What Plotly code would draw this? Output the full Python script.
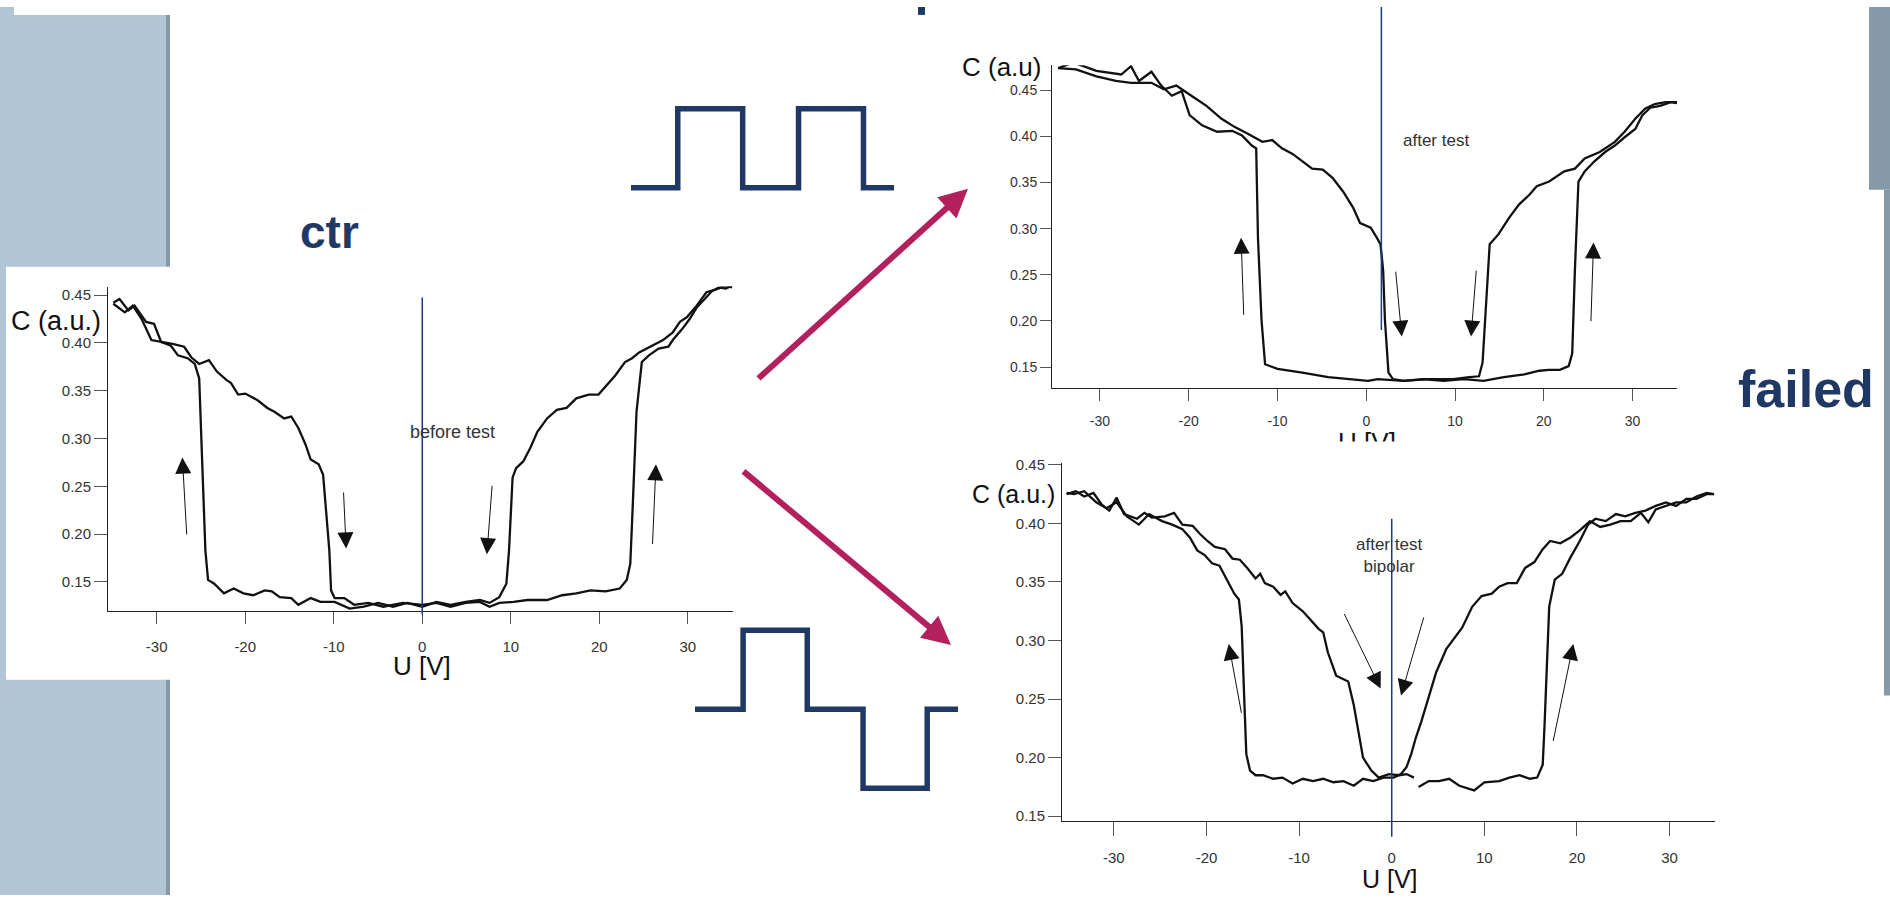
import plotly.graph_objects as go

W, H = 1890, 899

# ---------------- data ----------------
ticks_x = [-30, -20, -10, 0, 10, 20, 30]
ticks_x_text = ["-30", "-20", "-10", "0", "10", "20", "30"]
ticks_y = [0.15, 0.20, 0.25, 0.30, 0.35, 0.40, 0.45]

# before test (ctr): forward sweep (-35 -> +35) and reverse sweep
before_fwd = [(-34.9,0.442),(-34.2,0.446),(-33.2,0.434),(-32.5,0.439),(-31.2,0.422),(-30.3,0.420),
              (-29.5,0.401),(-28.2,0.399),(-26.9,0.396),(-26.1,0.385),(-25.2,0.378),(-24.1,0.382),
              (-23.2,0.370),(-22.1,0.361),(-21.6,0.358),(-20.8,0.346),(-20.0,0.347),(-18.6,0.340),
              (-17.5,0.332),(-16.7,0.328),(-15.6,0.321),(-14.8,0.323),(-14.0,0.311),(-13.2,0.294),
              (-12.6,0.278),(-11.7,0.273),(-11.2,0.262),(-10.9,0.231),(-10.5,0.183),(-10.3,0.141),
              (-9.9,0.133),(-8.8,0.133),(-7.7,0.126),(-6.1,0.128),(-4.4,0.124),(-2.2,0.128),
              (0.0,0.126),(1.6,0.128),(3.2,0.124),(4.9,0.128),(6.5,0.129),(7.6,0.124),(8.7,0.128),
              (10.3,0.129),(11.9,0.131),(14.1,0.131),(15.8,0.136),(17.4,0.138),(19.0,0.141),
              (20.7,0.140),(22.3,0.143),(23.1,0.152),(23.5,0.169),(23.8,0.235),(24.2,0.328),
              (24.8,0.380),(25.6,0.387),(26.7,0.394),(27.8,0.396),(28.3,0.403),(29.4,0.415),
              (30.2,0.425),(31.0,0.437),(31.9,0.446),(32.7,0.454),(33.5,0.458),(34.3,0.457),(35.0,0.460)]
before_rev = [(-34.9,0.441),(-33.6,0.432),(-32.7,0.439),(-31.7,0.425),(-30.6,0.403),(-29.5,0.401),
              (-28.4,0.397),(-27.6,0.387),(-26.5,0.384),(-25.7,0.378),(-25.2,0.363),(-24.9,0.287),
              (-24.5,0.183),(-24.2,0.152),(-23.5,0.148),(-22.4,0.138),(-21.3,0.143),(-20.2,0.138),
              (-19.1,0.136),(-17.8,0.141),(-17.0,0.140),(-16.1,0.134),(-14.8,0.133),(-14.0,0.126),
              (-12.6,0.133),(-11.5,0.129),(-9.9,0.129),(-8.2,0.122),(-6.6,0.124),(-5.0,0.128),
              (-3.3,0.124),(-1.7,0.128),(0.0,0.124),(1.6,0.129),(3.2,0.126),(4.9,0.129),(6.5,0.131),
              (7.6,0.128),(8.7,0.134),(9.5,0.148),(9.8,0.183),(10.2,0.259),(10.6,0.269),(11.4,0.276),
              (12.2,0.290),(13.0,0.307),(14.1,0.321),(15.2,0.330),(16.3,0.332),(17.4,0.342),
              (18.8,0.346),(19.9,0.346),(20.7,0.354),(21.8,0.366),(22.9,0.380),(23.7,0.384),
              (24.5,0.390),(25.9,0.397),(27.2,0.403),(28.3,0.411),(29.1,0.422),(29.9,0.427),
              (31.0,0.439),(32.1,0.453),(33.2,0.456),(34.3,0.460),(35.0,0.458)]

# after test (unipolar pulses)
after_fwd = [(-34.7,0.474),(-32.7,0.4725),(-30.4,0.465),(-28.2,0.460),(-26.5,0.458),(-24.2,0.458),
             (-22.8,0.451),(-21.4,0.455),(-19.7,0.444),(-18.0,0.433),(-16.3,0.419),(-14.8,0.410),
             (-13.4,0.403),(-11.7,0.394),(-10.6,0.396),(-9.5,0.387),(-8.3,0.381),(-7.2,0.373),
             (-6.1,0.365),(-4.9,0.364),(-3.8,0.355),(-2.6,0.340),(-1.5,0.323),(-0.7,0.306),
             (0.5,0.301),(1.2,0.290),(1.6,0.283),(1.9,0.255),(2.1,0.201),(2.5,0.144),(3.0,0.137),
             (4.2,0.135),(6.4,0.137),(8.7,0.135),(11.0,0.137),(13.2,0.135),(15.5,0.139),(17.8,0.142),
             (19.5,0.146),(20.6,0.147),(21.8,0.147),(22.8,0.151),(23.2,0.165),(23.5,0.255),
             (23.9,0.351),(24.6,0.362),(25.7,0.373),(26.9,0.383),(28.0,0.390),(29.1,0.399),
             (30.3,0.408),(31.1,0.423),(32.0,0.431),(33.1,0.433),(34.3,0.437),(35.0,0.436)]
after_rev = [(-34.7,0.474),(-33.0,0.480),(-30.4,0.471),(-27.6,0.467),(-26.5,0.476),(-25.6,0.460),
             (-24.2,0.470),(-23.1,0.455),(-21.9,0.444),(-20.8,0.449),(-19.9,0.423),(-18.5,0.412),
             (-16.8,0.405),(-15.1,0.406),(-14.0,0.401),(-12.9,0.390),(-12.4,0.387),(-12.2,0.290),
             (-11.8,0.201),(-11.4,0.153),(-10.0,0.148),(-7.2,0.144),(-4.3,0.139),(-1.5,0.137),
             (0.2,0.135),(1.3,0.137),(4.2,0.135),(7.0,0.137),(9.8,0.137),(11.6,0.139),(12.7,0.140),
             (13.1,0.155),(13.5,0.219),(13.9,0.283),(14.9,0.294),(16.1,0.312),(17.2,0.326),
             (18.4,0.337),(19.2,0.346),(20.6,0.351),(22.3,0.362),(23.5,0.365),(24.6,0.376),
             (26.3,0.383),(28.0,0.394),(29.1,0.405),(30.3,0.419),(31.4,0.430),(32.5,0.435),
             (33.7,0.437),(35.0,0.437)]

# after test bipolar
bip_fwd = [(-35.1,0.425),(-34.1,0.4275),(-33.2,0.423),(-32.2,0.426),(-31.3,0.416),(-30.5,0.411),
           (-29.7,0.422),(-28.9,0.408),(-27.5,0.404),(-26.7,0.409),(-25.9,0.405),(-24.5,0.406),
           (-23.5,0.409),(-22.6,0.399),(-21.5,0.398),(-20.7,0.391),(-19.9,0.385),(-19.1,0.380),
           (-18.0,0.378),(-17.2,0.370),(-16.4,0.369),(-15.6,0.362),(-14.7,0.353),(-14.2,0.357),
           (-13.7,0.349),(-12.8,0.346),(-12.0,0.339),(-11.5,0.342),(-10.7,0.332),(-9.6,0.325),
           (-8.8,0.318),(-7.9,0.310),(-7.4,0.307),(-6.9,0.290),(-6.0,0.270),(-5.2,0.267),
           (-4.7,0.265),(-4.1,0.245),(-3.6,0.222),(-3.1,0.200),(-2.2,0.189),(-1.4,0.183),
           (-0.3,0.186),(0.8,0.185),(1.6,0.186),(2.4,0.183),(None,None),(2.9,0.175),(4.0,0.180),
           (5.1,0.180),(6.2,0.182),(7.3,0.176),(8.9,0.172),(10.0,0.179),(11.6,0.180),(12.7,0.183),
           (13.8,0.185),(14.9,0.182),(15.7,0.183),(16.3,0.194),(16.5,0.228),(17.0,0.329),
           (17.6,0.352),(18.4,0.357),(19.3,0.371),(20.3,0.385),(21.2,0.399),(22.0,0.404),
           (23.1,0.402),(24.2,0.408),(25.2,0.406),(26.3,0.409),(27.4,0.411),(28.5,0.415),
           (29.6,0.418),(30.7,0.415),(31.8,0.421),(32.9,0.421),(34.0,0.425),(34.8,0.425)]
bip_rev = [(-35.1,0.426),(-34.3,0.425),(-33.2,0.4275),(-31.9,0.418),(-30.8,0.413),(-29.7,0.418),
           (-28.6,0.406),(-27.3,0.399),(-26.2,0.408),(-24.8,0.402),(-23.7,0.399),(-22.6,0.395),
           (-21.8,0.388),(-21.0,0.377),(-20.2,0.373),(-19.4,0.366),(-18.6,0.364),(-17.8,0.352),
           (-17.0,0.340),(-16.5,0.335),(-16.2,0.312),(-15.9,0.245),(-15.7,0.203),(-15.3,0.189),
           (-14.7,0.185),(-13.9,0.185),(-12.8,0.182),(-11.8,0.183),(-10.7,0.178),(-9.6,0.182),
           (-8.5,0.180),(-7.4,0.182),(-6.3,0.179),(-5.2,0.180),(-4.1,0.176),(-3.1,0.182),
           (-2.0,0.180),(-0.9,0.183),(0.2,0.183),(1.0,0.186),(1.6,0.192),(2.1,0.203),(2.6,0.217),
           (3.2,0.231),(4.0,0.253),(4.8,0.273),(5.9,0.293),(6.7,0.301),(7.6,0.311),(8.7,0.329),
           (9.7,0.338),(10.8,0.340),(11.6,0.346),(12.5,0.349),(13.5,0.349),(14.4,0.362),
           (15.4,0.367),(16.3,0.378),(17.1,0.385),(18.2,0.383),(19.3,0.388),(20.3,0.394),
           (21.4,0.402),(22.5,0.397),(23.6,0.399),(24.7,0.402),(25.8,0.402),(26.9,0.409),
           (27.7,0.401),(28.5,0.412),(29.6,0.415),(30.7,0.418),(31.8,0.418),(32.9,0.423),
           (34.0,0.426),(34.8,0.425)]

# sweep-direction arrows: (tail_x, tail_y, head_x, head_y)
before_arrows = [(-26.6,0.198,-27.1,0.280),(-8.9,0.245,-8.6,0.185),(7.9,0.252,7.3,0.179),(26.0,0.188,26.4,0.273)]
after_arrows = [(-13.8,0.205,-14.1,0.290),(3.3,0.255,4.0,0.183),(12.4,0.256,11.8,0.183),(25.3,0.198,25.6,0.285)]
bip_arrows = [(-16.2,0.237,-17.6,0.297),(-5.2,0.324,-1.2,0.259),(3.5,0.321,1.0,0.253),(17.4,0.213,19.6,0.297)]

# pulse schematics (time in pulse widths, level)
unipolar_t = [0, 0.72, 1.72, 2.58, 3.58, 4.05]
unipolar_v = [0, 1, 0, 1, 0, 0]
bipolar_t = [0, 0.75, 1.75, 2.62, 3.62, 4.1]
bipolar_v = [0, 1, 0, -1, 0, 0]

# ---------------- helpers ----------------
def px(x):
    return x / W

def py(y):
    return 1 - y / H

def split(pairs):
    return [p[0] for p in pairs], [p[1] for p in pairs]

FONT = "Liberation Sans, Arial, sans-serif"
NAVY = "#1F3864"
VLINE = "#1F3A7A"

fig = go.Figure()

def add_curve(pairs, xa, ya):
    xs, ys = split(pairs)
    fig.add_trace(go.Scatter(x=xs, y=ys, mode="lines", line=dict(color="#111111", width=2.3),
                             xaxis=xa, yaxis=ya, showlegend=False, hoverinfo="skip",
                             connectgaps=False))

add_curve(before_fwd, "x", "y")
add_curve(before_rev, "x", "y")
add_curve(after_fwd, "x2", "y2")
add_curve(after_rev, "x2", "y2")
add_curve(bip_fwd, "x3", "y3")
add_curve(bip_rev, "x3", "y3")

# pulses
fig.add_trace(go.Scatter(x=unipolar_t, y=unipolar_v, mode="lines", line=dict(color=NAVY, width=5.5, shape="hv"),
                         xaxis="x4", yaxis="y4", showlegend=False, hoverinfo="skip"))
fig.add_trace(go.Scatter(x=bipolar_t, y=bipolar_v, mode="lines", line=dict(color=NAVY, width=5.5, shape="hv"),
                         xaxis="x5", yaxis="y5", showlegend=False, hoverinfo="skip"))

# clipped axis title of the top-right chart (cut by the lower panel)
fig.add_trace(go.Scatter(x=[0.5], y=[0.23], mode="text", text=["U [V]"], textposition="bottom center",
                         textfont=dict(family=FONT, size=26, color="#111"), cliponaxis=True,
                         xaxis="x6", yaxis="y6", showlegend=False, hoverinfo="skip"))

def xax(domain, rng, ticklen, standoff, anchor, size=15):
    return dict(domain=domain, range=rng, tickvals=ticks_x, ticktext=ticks_x_text, showline=True,
                linecolor="#222", linewidth=1, ticks="outside", ticklen=ticklen, tickcolor="#555",
                tickwidth=1, showgrid=False, zeroline=False, anchor=anchor, ticklabelstandoff=standoff,
                tickfont=dict(family=FONT, size=size, color="#333"), fixedrange=True)

def yax(domain, rng, ticklen, anchor, size=15):
    return dict(domain=domain, range=rng, tickvals=ticks_y, tickformat=".2f", showline=True,
                linecolor="#222", linewidth=1, ticks="outside", ticklen=ticklen, tickcolor="#555",
                tickwidth=1, showgrid=False, zeroline=False, anchor=anchor,
                tickfont=dict(family=FONT, size=size, color="#333"), fixedrange=True)

hidden = dict(visible=False, fixedrange=True, showgrid=False, zeroline=False)

layout = dict(
    width=W, height=H, margin=dict(l=0, r=0, t=0, b=0),
    paper_bgcolor="white", plot_bgcolor="rgba(0,0,0,0)", showlegend=False,
    xaxis=xax([px(108), px(733)], [-35.5, 35.1], 12, 10, "y"),
    yaxis=yax([py(611), py(283)], [0.12, 0.459], 13, "x"),
    xaxis2=xax([px(1052), px(1677)], [-35.4, 35.0], 12, 8, "y2", 14),
    yaxis2=yax([py(386), py(59)], [0.127, 0.477], 11, "x2", 14),
    xaxis3=xax([px(1062), px(1715)], [-35.6, 34.9], 14, 9, "y3"),
    yaxis3=yax([py(824), py(462)], [0.146, 0.4513], 13, "x3"),
    xaxis4=dict(hidden, domain=[px(621), px(904)], range=[-0.154, 4.204], anchor="y4"),
    yaxis4=dict(hidden, domain=[py(193), py(93)], range=[-0.125, 1.125], anchor="x4"),
    xaxis5=dict(hidden, domain=[px(685), px(968)], range=[-0.156, 4.256], anchor="y5"),
    yaxis5=dict(hidden, domain=[py(801), py(621)], range=[-1.125, 1.125], anchor="x5"),
    xaxis6=dict(hidden, domain=[px(1297), px(1437)], range=[0, 1], anchor="y6"),
    yaxis6=dict(hidden, domain=[py(440), py(395)], range=[0, 1], anchor="x6"),
)
fig.update_layout(**layout)

# ---------------- background decoration ----------------
def rect(x0, y0, x1, y1, color):
    return dict(type="rect", xref="paper", yref="paper", x0=px(x0), x1=px(x1), y0=py(y1), y1=py(y0),
                fillcolor=color, line=dict(width=0), layer="below")

shapes = [
    rect(0, 0, 166, 899, "#B1C5D6"),
    rect(166, 0, 170, 899, "#8599A8"),
    rect(14, 0, 172, 8, "white"),
    rect(6, 263, 172, 681, "white"),
    rect(1869, 0, 1890, 185, "#8599A8"),
    rect(1884, 185, 1890, 697, "#8599A8"),
    rect(918, 0, 925, 8, NAVY),
    # zero-bias markers
    dict(type="line", xref="x", yref="paper", x0=0, x1=0, y0=py(615), y1=py(294),
         line=dict(color=VLINE, width=1.5)),
    dict(type="line", xref="x2", yref="paper", x0=1.7, x1=1.7, y0=py(327), y1=py(0),
         line=dict(color=VLINE, width=1.5)),
    dict(type="line", xref="x3", yref="paper", x0=0, x1=0, y0=py(840), y1=py(518),
         line=dict(color=VLINE, width=1.5)),
]
fig.update_layout(shapes=shapes)

ann = []
def txt(text, x, y, size, xref="paper", yref="paper", color="#111", bold=False, xanchor="center"):
    ann.append(dict(text=("<b>%s</b>" % text) if bold else text, x=x, y=y, xref=xref, yref=yref,
                    showarrow=False, xanchor=xanchor, yanchor="middle",
                    font=dict(family=FONT, size=size, color=color)))

# axis titles
txt("C (a.u.)", px(56), py(318), 27)
txt("U [V]", px(422), py(667), 26)
txt("C (a.u)", px(1001), py(61), 26)
txt("C (a.u.)", px(1013), py(493), 25)
txt("U [V]", px(1390), py(883), 25)
# chart labels
txt("before test", 3.4, 0.307, 18, "x", "y", "#333")
txt("after test", 7.8, 0.396, 17, "x2", "y2", "#333")
txt("after test<br>bipolar", -0.3, 0.3725, 17, "x3", "y3", "#333")
# slide labels
txt("ctr", px(329), py(228), 46, color=NAVY, bold=True)
txt("failed", px(1806), py(387), 52, color=NAVY, bold=True)

def arrows(lst, xr, yr):
    for (tx, ty, hx, hy) in lst:
        ann.append(dict(x=hx, y=hy, ax=tx, ay=ty, xref=xr, yref=yr, axref=xr, ayref=yr, text="",
                        showarrow=True, arrowhead=2, arrowsize=3.2, arrowwidth=1, arrowcolor="#111"))

arrows(before_arrows, "x", "y")
arrows(after_arrows, "x2", "y2")
arrows(bip_arrows, "x3", "y3")

# big magenta arrows
PINK = "#B3205E"
ann.append(dict(x=px(968), y=py(184), xref="paper", yref="paper", ax=757 - 968, ay=375 - 184,
                text="", showarrow=True, arrowhead=2, arrowsize=0.95, arrowwidth=6, arrowcolor=PINK))
ann.append(dict(x=px(951), y=py(646), xref="paper", yref="paper", ax=742 - 951, ay=471 - 646,
                text="", showarrow=True, arrowhead=2, arrowsize=0.95, arrowwidth=6, arrowcolor=PINK))

fig.update_layout(annotations=ann)

fig.write_html("out.html", config={"displayModeBar": False})
